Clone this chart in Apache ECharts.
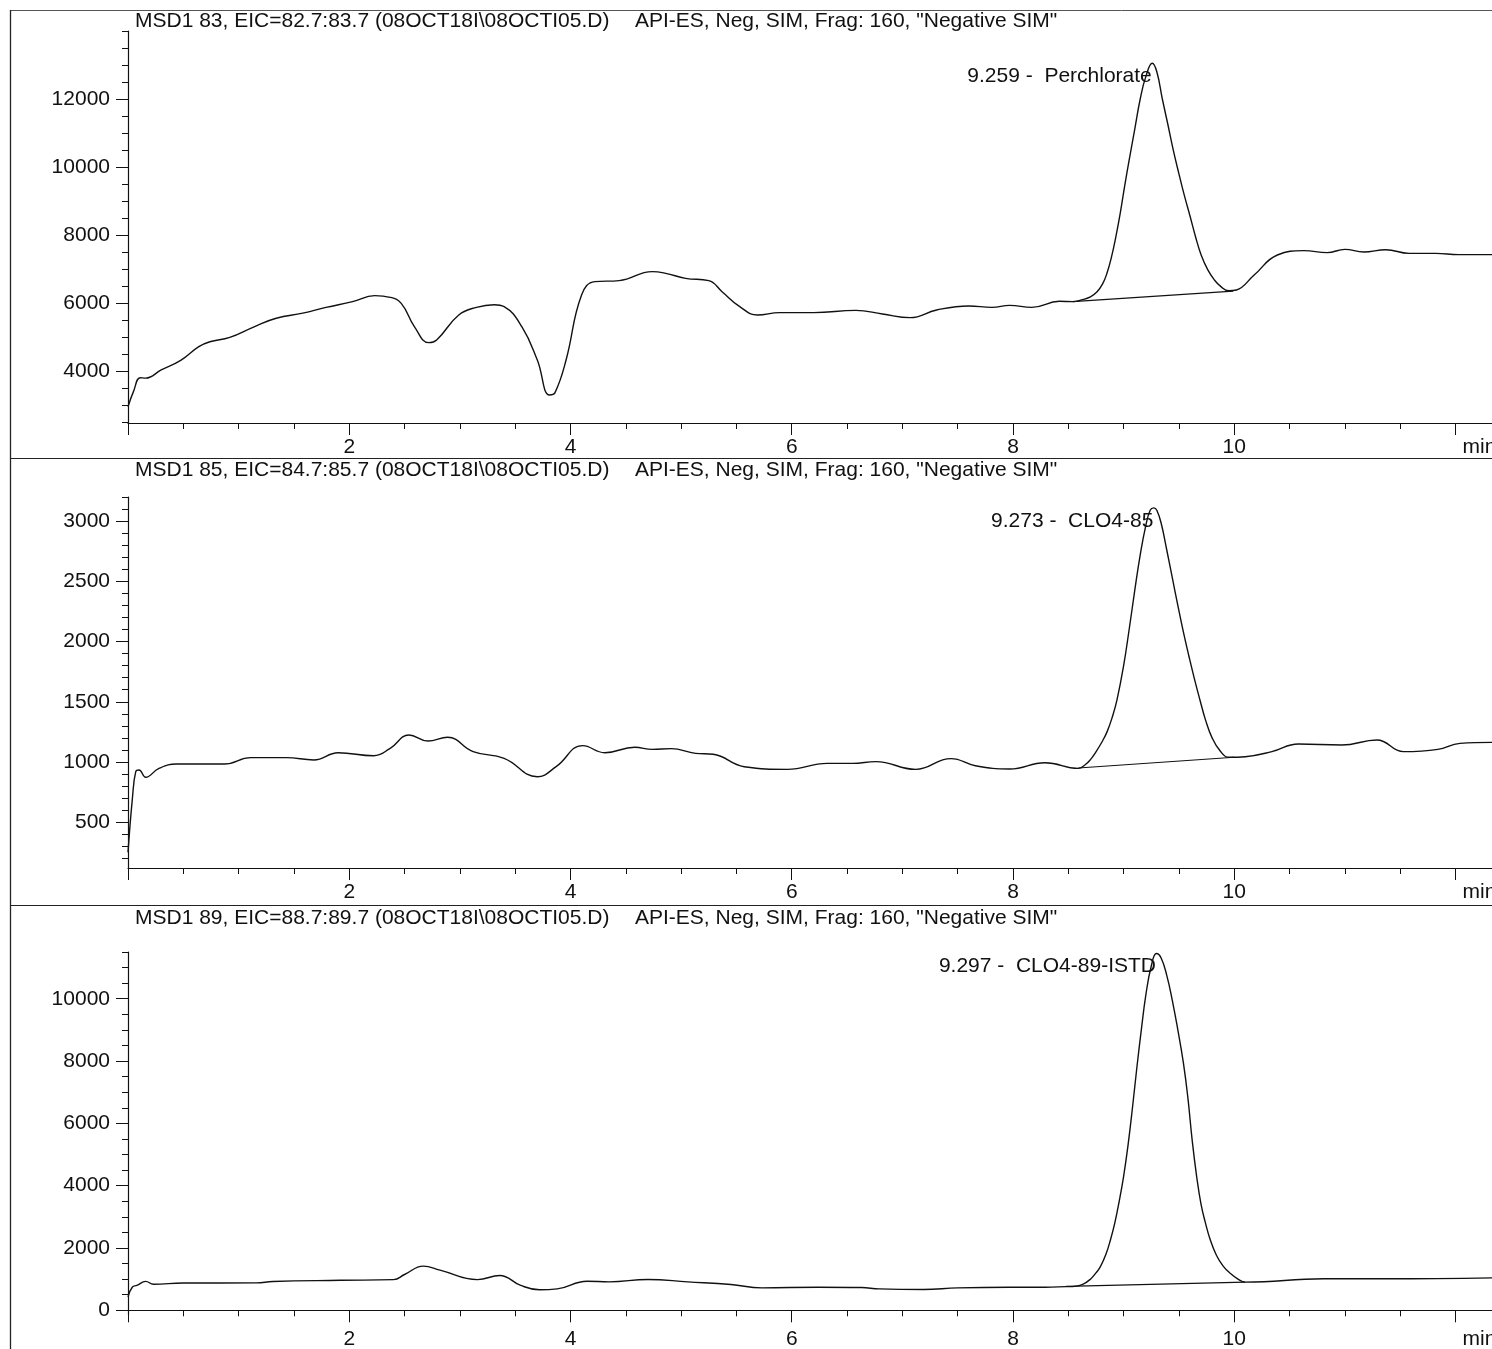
<!DOCTYPE html>
<html>
<head>
<meta charset="utf-8">
<script src="https://cdn.jsdelivr.net/npm/echarts@6/dist/echarts.min.js"></script>
<style>
html,body{margin:0;padding:0;background:#fff;}
#chart{width:1492px;height:1349px;}
</style>
</head>
<body>
<div id="chart"></div>
<script>
// ---------- DATA ----------
const panelTitles = [
  'MSD1 83, EIC=82.7:83.7 (08OCT18I\\08OCTI05.D)',
  'MSD1 85, EIC=84.7:85.7 (08OCT18I\\08OCTI05.D)',
  'MSD1 89, EIC=88.7:89.7 (08OCT18I\\08OCTI05.D)'
];
const panelMethod = 'API-ES, Neg, SIM, Frag: 160, "Negative SIM"';

const peakRT = [9.259, 9.273, 9.297];
const peakNames = ['Perchlorate', 'CLO4-85', 'CLO4-89-ISTD'];
const peakApex = [13050, 3110, 11450];

// m/z 83 trace [min, abundance]
const eic83Trace = [
  [0.00,2950],[0.05,3400],[0.11,3800],[0.16,3790],[0.30,4030],[0.48,4320],[0.64,4715],[0.74,4860],
  [0.92,4990],[1.14,5300],[1.34,5550],[1.58,5700],[1.79,5870],[2.03,6040],[2.23,6216],[2.37,6167],
  [2.47,5990],[2.59,5300],[2.72,4833],[2.79,4911],[2.99,5647],[3.15,5872],[3.31,5950],[3.40,5892],
  [3.56,5303],[3.70,4323],[3.81,3294],[3.86,3363],[3.96,4323],[4.10,6235],[4.22,6627],[4.44,6657],
  [4.74,6921],[4.86,6872],[5.04,6725],[5.25,6657],[5.37,6333],[5.53,5892],[5.69,5647],[5.89,5716],
  [6.20,5716],[6.58,5784],[6.82,5676],[7.07,5568],[7.31,5794],[7.60,5912],[7.81,5872],[7.97,5931],
  [8.17,5872],[8.42,6049],[8.54,6040],[8.62,6090],[8.70,6180],[8.76,6330],[8.81,6560],[8.85,6880],
  [8.89,7350],[8.93,7950],[8.97,8650],[9.01,9450],[9.05,10200],[9.10,11100],[9.15,12000],[9.20,12650],
  [9.259,13050],[9.30,12800],[9.35,12000],[9.40,11250],[9.45,10480],[9.50,9800],[9.55,9150],[9.60,8560],
  [9.65,7950],[9.70,7420],[9.76,6980],[9.82,6680],[9.88,6480],[9.95,6360],[10.02,6383],[10.18,6823],
  [10.39,7412],[10.63,7539],[10.84,7480],[11.00,7578],[11.17,7500],[11.37,7568],[11.58,7460],[11.82,7460],
  [12.03,7421],[12.33,7421]
];
const eic83Baseline = [[8.54,6040],[9.99,6350]];

// m/z 85 trace
const eic85Trace = [
  [0.00,250],[0.04,700],[0.07,920],[0.10,934],[0.16,873],[0.28,947],[0.44,983],[0.87,983],
  [1.11,1036],[1.43,1036],[1.68,1017],[1.90,1077],[2.22,1052],[2.37,1113],[2.54,1224],[2.71,1174],
  [2.89,1205],[3.12,1086],[3.40,1030],[3.70,878],[3.87,961],[4.11,1136],[4.31,1077],[4.58,1122],
  [4.74,1105],[4.91,1111],[5.13,1072],[5.29,1064],[5.57,961],[5.96,939],[6.32,989],[6.55,989],
  [6.76,1003],[7.12,939],[7.44,1028],[7.66,969],[7.97,942],[8.29,994],[8.59,947],[8.65,975],
  [8.70,1020],[8.75,1085],[8.80,1160],[8.85,1250],[8.90,1380],[8.94,1515],[9.00,1800],[9.05,2100],
  [9.10,2420],[9.15,2720],[9.20,2960],[9.24,3090],[9.273,3110],[9.30,3090],[9.34,2980],[9.39,2760],
  [9.44,2530],[9.49,2300],[9.54,2080],[9.59,1880],[9.64,1690],[9.69,1515],[9.74,1350],[9.80,1200],
  [9.87,1095],[9.95,1039],[10.10,1044],[10.34,1086],[10.58,1149],[10.97,1141],[11.29,1183],[11.53,1086],
  [11.84,1105],[12.04,1155],[12.33,1163]
];
const eic85Baseline = [[8.59,950],[10.00,1040]];

// m/z 89 trace
const eic89Trace = [
  [0.00,430],[0.04,750],[0.08,800],[0.16,930],[0.23,835],[0.50,877],[1.16,880],[1.31,925],
  [1.92,963],[2.40,985],[2.50,1150],[2.67,1420],[2.82,1290],[3.16,985],[3.36,1120],[3.55,800],
  [3.72,660],[3.88,688],[4.15,935],[4.35,914],[4.70,989],[5.06,914],[5.45,828],[5.73,720],
  [6.24,742],[6.63,731],[6.79,688],[7.19,667],[7.50,720],[7.97,742],[8.29,742],[8.48,760],
  [8.56,770],[8.63,830],[8.70,1000],[8.75,1200],[8.79,1400],[8.84,1800],[8.88,2250],[8.92,2800],
  [8.96,3500],[9.00,4300],[9.04,5300],[9.08,6500],[9.12,7800],[9.16,9000],[9.20,10100],[9.25,11050],
  [9.297,11450],[9.34,11300],[9.39,10750],[9.44,9950],[9.49,9000],[9.54,7950],[9.58,6850],[9.62,5450],
  [9.66,4300],[9.70,3400],[9.74,2800],[9.78,2300],[9.84,1760],[9.90,1420],[9.96,1200],[10.03,1010],
  [10.10,905],[10.81,1011],[11.37,1011],[12.33,1043]
];
const eic89Baseline = [[8.48,770],[10.10,905]];

// axis ranges and ticks
const xRange = [0, 12.33];
const xMajorTicks = [0, 2, 4, 6, 8, 10, 12];
const xLabelTicks = [2, 4, 6, 8, 10, 12];
const xMinorTicks = [0,0.5,1,1.5,2,2.5,3,3.5,4,4.5,5,5.5,6,6.5,7,7.5,8,8.5,9,9.5,10,10.5,11,11.5,12];

const yRanges = [[2470, 14000], [120, 3200], [-150, 11500]];
const yMajorTicks = [
  [4000, 6000, 8000, 10000, 12000],
  [500, 1000, 1500, 2000, 2500, 3000],
  [0, 2000, 4000, 6000, 8000, 10000]
];
const yMinorTicks = [
  [2500,3000,3500,4000,4500,5000,5500,6000,6500,7000,7500,8000,8500,9000,9500,10000,10500,11000,11500,12000,12500,13000,13500,14000],
  [200,300,400,500,600,700,800,900,1000,1100,1200,1300,1400,1500,1600,1700,1800,1900,2000,2100,2200,2300,2400,2500,2600,2700,2800,2900,3000,3100,3200],
  [0,500,1000,1500,2000,2500,3000,3500,4000,4500,5000,5500,6000,6500,7000,7500,8000,8500,9000,9500,10000,10500,11000,11500]
];

const traces = [eic83Trace, eic85Trace, eic89Trace];
const baselines = [eic83Baseline, eic85Baseline, eic89Baseline];

// ---------- LAYOUT / STYLE ----------
const FONT = '"Liberation Sans", Arial, Helvetica, sans-serif';
const INK = '#111';
const FS = 21;
const grids = [
  {left: 128, right: 0, top: 31, height: 392, containLabel: false, outerBoundsMode: 'none'},
  {left: 128, right: 0, top: 497, height: 371, containLabel: false, outerBoundsMode: 'none'},
  {left: 128, right: 0, top: 952, height: 363, containLabel: false, outerBoundsMode: 'none'}
];
const titleTops = [11, 460, 908];

const xAxes = [], yAxes = [], series = [], titles = [];
for (let i = 0; i < 3; i++) {
  xAxes.push({
    type: 'value', gridIndex: i, position: 'bottom', min: xRange[0], max: xRange[1],
    axisLine: {show: true, lineStyle: {color: INK, width: 1.2}},
    axisTick: {show: true, length: 12, customValues: xMajorTicks, lineStyle: {color: INK, width: 1}},
    axisLabel: {
      show: true, customValues: xLabelTicks, margin: 14,
      color: INK, fontSize: FS, fontFamily: FONT,
      formatter: v => (v === 12 ? '{m|min}' : String(v)),
      rich: {m: {padding: [0, 0, 0, 48], fontSize: FS, fontFamily: FONT, color: INK}}
    },
    splitLine: {show: false}
  });
  xAxes.push({
    type: 'value', gridIndex: i, position: 'bottom', min: xRange[0], max: xRange[1],
    axisLine: {show: false},
    axisTick: {show: true, length: 6, customValues: xMinorTicks, lineStyle: {color: INK, width: 1}},
    axisLabel: {show: false},
    splitLine: {show: false}
  });
  yAxes.push({
    type: 'value', gridIndex: i, position: 'left', min: yRanges[i][0], max: yRanges[i][1],
    axisLine: {show: true, lineStyle: {color: INK, width: 1.2}},
    axisTick: {show: true, length: 12, customValues: yMajorTicks[i], lineStyle: {color: INK, width: 1}},
    axisLabel: {show: true, customValues: yMajorTicks[i], margin: 18, color: INK, fontSize: FS, fontFamily: FONT,
      formatter: v => String(v)},
    splitLine: {show: false}
  });
  yAxes.push({
    type: 'value', gridIndex: i, position: 'left', min: yRanges[i][0], max: yRanges[i][1],
    axisLine: {show: false},
    axisTick: {show: true, length: 6, customValues: yMinorTicks[i], lineStyle: {color: INK, width: 1}},
    axisLabel: {show: false},
    splitLine: {show: false}
  });

  series.push({
    type: 'line', xAxisIndex: 2 * i, yAxisIndex: 2 * i,
    data: traces[i], symbol: 'none', smooth: 0.45,
    lineStyle: {color: INK, width: 1.4}, silent: true, z: 3,
    markPoint: {
      symbol: 'circle', symbolSize: 1, silent: true, animation: false,
      itemStyle: {color: 'rgba(0,0,0,0)'},
      label: {
        show: true, position: 'left', distance: 0, offset: [0, 13],
        color: INK, fontSize: FS, fontFamily: FONT,
        formatter: peakRT[i].toFixed(3) + ' -  ' + peakNames[i]
      },
      data: [{coord: [peakRT[i], peakApex[i]]}]
    }
  });
  series.push({
    type: 'line', xAxisIndex: 2 * i, yAxisIndex: 2 * i,
    data: baselines[i], symbol: 'none',
    lineStyle: {color: INK, width: 1.1}, silent: true, z: 2
  });

  titles.push({
    text: panelTitles[i], left: 135, top: titleTops[i], padding: 0,
    textStyle: {color: INK, fontSize: FS, fontWeight: 'normal', fontFamily: FONT}
  });
  titles.push({
    text: panelMethod, left: 635, top: titleTops[i], padding: 0,
    textStyle: {color: INK, fontSize: FS, fontWeight: 'normal', fontFamily: FONT}
  });
}

const frame = [
  {type: 'line', shape: {x1: 10, y1: 10.5, x2: 1492, y2: 10.5}, style: {stroke: '#555', lineWidth: 1}},
  {type: 'line', shape: {x1: 10.5, y1: 10, x2: 10.5, y2: 1349}, style: {stroke: '#222', lineWidth: 1.3}},
  {type: 'line', shape: {x1: 10, y1: 458.5, x2: 1492, y2: 458.5}, style: {stroke: '#222', lineWidth: 1.2}},
  {type: 'line', shape: {x1: 10, y1: 905.5, x2: 1492, y2: 905.5}, style: {stroke: '#222', lineWidth: 1.2}}
];

const chart = echarts.init(document.getElementById('chart'), null, {renderer: 'canvas'});
chart.setOption({
  animation: false,
  backgroundColor: '#fff',
  title: titles,
  grid: grids,
  xAxis: xAxes,
  yAxis: yAxes,
  series: series,
  graphic: frame
});
</script>
</body>
</html>
